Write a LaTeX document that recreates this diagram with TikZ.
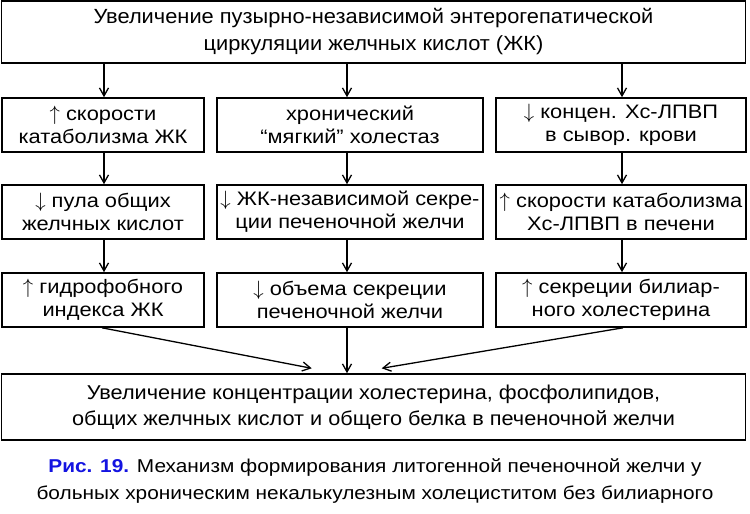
\documentclass[tikz,border=0pt]{standalone}
\usepackage{fontspec}
\setmainfont{Liberation Sans}
\newfontfamily\topfont{Liberation Sans}[FakeStretch=1.065]
\newfontfamily\rowfont{Liberation Sans}[FakeStretch=1.12]
\newfontfamily\botfont{Liberation Sans}[FakeStretch=1.085]
\newfontfamily\capfont{Liberation Sans}[FakeStretch=1.12]
\usetikzlibrary{arrows.meta}
\definecolor{capblue}{RGB}{20,20,225}
\newcommand{\upar}{$\uparrow$}
\newcommand{\dnar}{$\downarrow$}
\tikzset{
  box/.style={draw=black, line width=1.6pt, rectangle, inner sep=0pt, align=center, fill=white},
  topbox/.style={box, minimum width=744pt, minimum height=62pt, font=\topfont\fontsize{20.5}{27}\selectfont},
  rowbox/.style={box, minimum height=54pt, font=\rowfont\fontsize{19.5}{23}\selectfont},
  botbox/.style={box, minimum width=744pt, minimum height=66pt, font=\botfont\fontsize{20}{26}\selectfont},
  conn/.style={line width=1.3pt, -{Straight Barb[length=8pt,width=9pt,line width=1.3pt]}},
  captext/.style={inner sep=0pt, align=center, font=\capfont\fontsize{18.6}{27}\selectfont}
}
\begin{document}
\begin{tikzpicture}[x=1pt,y=-1pt]
\useasboundingbox[fill=white] (0,0) rectangle (750,514);
\node[topbox] (top) at (373.5,32) {Увеличение пузырно-независимой энтерогепатической\\циркуляции желчных кислот (ЖК)};
\node[rowbox, minimum width=202pt] (l1) at (103,125) {\upar\ скорости\\катаболизма ЖК};
\node[rowbox, minimum width=266pt] (m1) at (350,125) {хронический\\“мягкий” холестаз};
\node[rowbox, minimum width=250pt] (r1) at (621,125) {\dnar\ концен. Хс-ЛПВП\\в сывор. крови};
\node[rowbox, minimum width=202pt] (l2) at (103,212) {\dnar\ пула общих\\желчных кислот};
\node[rowbox, minimum width=266pt] (m2) at (350,212) {\dnar\ ЖК-независимой секре-\\ции печеночной желчи};
\node[rowbox, minimum width=250pt] (r2) at (621,212) {\upar\ скорости катаболизма\\Хс-ЛПВП в печени};
\node[rowbox, minimum width=202pt] (l3) at (103,300) {\upar\ гидрофобного\\индекса ЖК};
\node[rowbox, minimum width=266pt] (m3) at (350,300) {\dnar\ объема секреции\\печеночной желчи};
\node[rowbox, minimum width=250pt] (r3) at (621,300) {\upar\ секреции билиар-\\ного холестерина};
\node[botbox] (bot) at (373.5,407) {Увеличение концентрации холестерина, фосфолипидов,\\общих желчных кислот и общего белка в печеночной желчи};
\node[captext] (cap) at (375,481) {{\bfseries\color{capblue}Рис. 19.} Механизм формирования литогенной печеночной желчи у\\больных хроническим некалькулезным холециститом без билиарного};
\coordinate (xl) at (104,0);
\coordinate (xm) at (347,0);
\coordinate (xr) at (622,0);
\coordinate (xld) at (102,0);
\coordinate (xrd) at (623,0);
\coordinate (bl) at (311.7,368.3);
\coordinate (br) at (381.7,368.3);
\draw[conn] (top.south -| xl) -- (l1.north -| xl);
\draw[conn] (top.south -| xm) -- (m1.north -| xm);
\draw[conn] (top.south -| xr) -- (r1.north -| xr);
\draw[conn] (l1.south -| xl) -- (l2.north -| xl);
\draw[conn] (m1.south -| xm) -- (m2.north -| xm);
\draw[conn] (r1.south -| xr) -- (r2.north -| xr);
\draw[conn] (l2.south -| xl) -- (l3.north -| xl);
\draw[conn] (m2.south -| xm) -- (m3.north -| xm);
\draw[conn] (r2.south -| xr) -- (r3.north -| xr);
\draw[conn] (l3.south -| xld) -- (bl);
\draw[conn] (m3.south -| xm) -- (bot.north -| xm);
\draw[conn] (r3.south -| xrd) -- (br);
\end{tikzpicture}
\end{document}
